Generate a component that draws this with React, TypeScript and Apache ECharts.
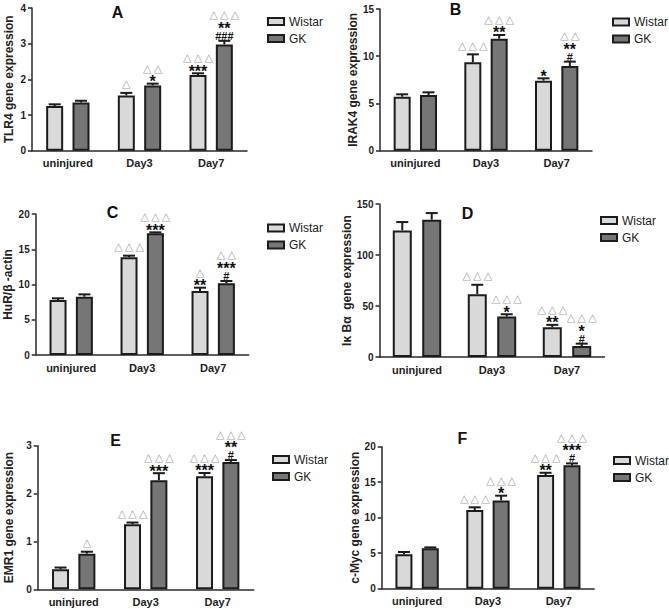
import React, { useEffect, useRef } from "react";
import * as echarts from "echarts";

const categories = ["uninjured", "Day3", "Day7"];

// Panel A: TLR4
const tlr4Wistar = [1.25, 1.55, 2.12];
const tlr4WistarErr = [0.05, 0.07, 0.05];
const tlr4GK = [1.35, 1.83, 2.98];
const tlr4GKErr = [0.05, 0.05, 0.1];
const tlr4WistarMarks = [[], ["△"], ["△△△", "***"]];
const tlr4GKMarks = [[], ["△△", "*"], ["△△△", "**", "###"]];

// Panel B: IRAK4
const irak4Wistar = [5.72, 9.35, 7.41];
const irak4WistarErr = [0.25, 0.85, 0.25];
const irak4GK = [5.9, 11.86, 8.97];
const irak4GKErr = [0.28, 0.39, 0.46];
const irak4WistarMarks = [[], ["△△△"], ["*"]];
const irak4GKMarks = [[], ["△△△", "**"], ["△△", "**", "#"]];

// Panel C: HuR
const hurWistar = [7.8, 13.85, 9.08];
const hurWistarErr = [0.24, 0.24, 0.47];
const hurGK = [8.27, 17.26, 10.17];
const hurGKErr = [0.33, 0.14, 0.33];
const hurWistarMarks = [[], ["△△△"], ["△", "**"]];
const hurGKMarks = [[], ["△△△", "***"], ["△△", "***", "#"]];

// Panel D: IkBa
const ikbWistar = [124.1, 61.6, 29.2];
const ikbWistarErr = [8.2, 9.2, 2.3];
const ikbGK = [134.6, 39.6, 10.8];
const ikbGKErr = [6.5, 2.3, 2.3];
const ikbWistarMarks = [[], ["△△△"], ["△△△", "**"]];
const ikbGKMarks = [[], ["△△△", "*"], ["△△△", "*", "#"]];

// Panel E: EMR1
const emr1Wistar = [0.42, 1.36, 2.36];
const emr1WistarErr = [0.035, 0.035, 0.07];
const emr1GK = [0.745, 2.28, 2.66];
const emr1GKErr = [0.04, 0.146, 0.04];
const emr1WistarMarks = [[], ["△△△"], ["△△△", "***"]];
const emr1GKMarks = [["△"], ["△△△", "***"], ["△△△", "**", "#"]];

// Panel F: c-Myc
const mycWistar = [4.84, 11.08, 16.0];
const mycWistarErr = [0.33, 0.38, 0.33];
const mycGK = [5.68, 12.44, 17.37];
const mycGKErr = [0.14, 0.66, 0.28];
const mycWistarMarks = [[], ["△△△"], ["△△△", "**"]];
const mycGKMarks = [[], ["△△△", "*"], ["△△△", "***", "#"]];

const panelTitles = ["A", "B", "C", "D", "E", "F"];
const yNames = [
  "TLR4 gene expression",
  "IRAK4 gene expression",
  "HuR/β -actin",
  "Iκ Bα  gene expression",
  "EMR1 gene expression",
  "c-Myc gene expression",
];
const yMax = [4, 15, 20, 150, 3, 20];
const yInterval = [1, 5, 5, 50, 1, 5];

const panelData = [
  { w: tlr4Wistar, we: tlr4WistarErr, g: tlr4GK, ge: tlr4GKErr, wm: tlr4WistarMarks, gm: tlr4GKMarks },
  { w: irak4Wistar, we: irak4WistarErr, g: irak4GK, ge: irak4GKErr, wm: irak4WistarMarks, gm: irak4GKMarks },
  { w: hurWistar, we: hurWistarErr, g: hurGK, ge: hurGKErr, wm: hurWistarMarks, gm: hurGKMarks },
  { w: ikbWistar, we: ikbWistarErr, g: ikbGK, ge: ikbGKErr, wm: ikbWistarMarks, gm: ikbGKMarks },
  { w: emr1Wistar, we: emr1WistarErr, g: emr1GK, ge: emr1GKErr, wm: emr1WistarMarks, gm: emr1GKMarks },
  { w: mycWistar, we: mycWistarErr, g: mycGK, ge: mycGKErr, wm: mycWistarMarks, gm: mycGKMarks },
];

// Layout (pixels)
const layout = [
  { grid: { left: 32, top: 8, width: 215, height: 142.7 }, nameGap: 17, legend: { left: 262, top: 9.5 }, title: [117.5, 12.5], bw: 17 },
  { grid: { left: 380, top: 9, width: 212, height: 141.7 }, nameGap: 19, legend: { left: 607, top: 10 }, title: [455.5, 9.5], bw: 17 },
  { grid: { left: 35.7, top: 214, width: 213, height: 141 }, nameGap: 22, legend: { left: 262, top: 216 }, title: [112.5, 212.5], bw: 17 },
  { grid: { left: 379.5, top: 204, width: 225, height: 153 }, nameGap: 16, legend: { left: 595, top: 208.5 }, title: [467.5, 213], bw: 19 },
  { grid: { left: 37.7, top: 445.7, width: 216, height: 143.6 }, nameGap: 23, legend: { left: 267, top: 447.5 }, title: [115.5, 440], bw: 17 },
  { grid: { left: 381.7, top: 446.7, width: 212.5, height: 142 }, nameGap: 19, legend: { left: 608, top: 448.5 }, title: [462.5, 438.5], bw: 17 },
];

const BAR_GAP = 0.55;
const WISTAR_COLOR = "#d9d9d9";
const GK_COLOR = "#767676";
const EDGE = "#1c1c1c";
const AXIS = "#2a2a2a";
const TRI_COLOR = "#a3a3a3";
const FONT = '"Liberation Sans", Arial, sans-serif';
const FIRST_OFFSET: Record<string, number> = { tri: 9, star: 5.5, hash: 5 };

function makeErrorSeries(i: number, values: number[], errs: number[], marks: string[][], side: number) {
  const bw = layout[i].bw;
  const offset = (bw * (1 + BAR_GAP)) / 2;
  return {
    type: "custom",
    xAxisIndex: i,
    yAxisIndex: i,
    z: 5,
    silent: true,
    clip: false,
    encode: { x: 0, y: 1 },
    data: values.map((v, k) => [k, v, errs[k]]),
    renderItem: (params: any, api: any) => {
      const ci = api.value(0);
      const v = api.value(1);
      const e = api.value(2);
      const base = api.coord([ci, v]);
      const top = api.coord([ci, v + e]);
      const cx = base[0] + side * offset;
      const ty = top[1];
      const children: any[] = [
        { type: "line", shape: { x1: cx, y1: base[1], x2: cx, y2: ty }, style: { stroke: EDGE, lineWidth: 2 } },
        { type: "line", shape: { x1: cx - 6, y1: ty, x2: cx + 6, y2: ty }, style: { stroke: EDGE, lineWidth: 2 } },
      ];
      const lines = marks[params.dataIndex] || [];
      const rev = [...lines].reverse();
      let vc = ty;
      rev.forEach((txt, idx) => {
        const kind = txt[0] === "△" ? "tri" : txt[0] === "*" ? "star" : "hash";
        if (idx === 0) vc = ty - FIRST_OFFSET[kind];
        else vc -= kind === "tri" ? 10 : 11;
        let text = txt;
        let font = 'bold 11px "Liberation Sans"';
        let fill = "#111";
        let y = vc;
        if (kind === "tri") {
          text = txt.split("").join("\u2009");
          font = '11px "DejaVu Sans"';
          fill = TRI_COLOR;
        } else if (kind === "star") {
          font = 'bold 16px "Liberation Sans"';
          y = vc + 3.4;
        }
        children.push({
          type: "text",
          x: cx,
          y,
          style: {
            text,
            font,
            fill,
            align: "center",
            verticalAlign: "middle",
            textAlign: "center",
            textVerticalAlign: "middle",
          },
        });
      });
      return { type: "group", children };
    },
  };
}

export default function App() {
  const ref = useRef<HTMLDivElement>(null);
  useEffect(() => {
    if (!ref.current) return;
    const chart = echarts.init(ref.current, null, { renderer: "svg" });
    const grids: any[] = [];
    const xAxes: any[] = [];
    const yAxes: any[] = [];
    const legends: any[] = [];
    const series: any[] = [];
    const graphics: any[] = [];
    layout.forEach((L, i) => {
      const d = panelData[i];
      grids.push({ ...L.grid, containLabel: false });
      xAxes.push({
        type: "category",
        gridIndex: i,
        data: categories,
        axisLine: { lineStyle: { color: AXIS, width: 1.5 } },
        axisTick: { alignWithLabel: true, length: 4, lineStyle: { color: AXIS, width: 1.5 } },
        axisLabel: { fontSize: 11, fontWeight: "bold", color: "#222", fontFamily: FONT, margin: 7 },
        splitLine: { show: false },
      });
      yAxes.push({
        type: "value",
        gridIndex: i,
        min: 0,
        max: yMax[i],
        interval: yInterval[i],
        name: yNames[i],
        nameLocation: "middle",
        nameGap: L.nameGap,
        nameTextStyle: { fontSize: 12, fontWeight: "bold", color: "#222", fontFamily: FONT },
        axisLine: { show: true, lineStyle: { color: AXIS, width: 1.5 } },
        axisTick: { show: true, length: 4, lineStyle: { color: AXIS, width: 1.5 } },
        axisLabel: { fontSize: 10, fontWeight: "bold", color: "#222", fontFamily: FONT, margin: 6 },
        splitLine: { show: false },
      });
      legends.push({
        data: ["Wistar", "GK"],
        orient: "vertical",
        left: L.legend.left,
        top: L.legend.top,
        itemWidth: 16,
        itemHeight: 7,
        itemGap: 3,
        selectedMode: false,
        icon: "rect",
        itemStyle: { borderColor: EDGE, borderWidth: 2 },
        textStyle: { fontSize: 12, color: "#222", fontFamily: FONT, lineHeight: 14 },
      });
      series.push({
        name: "Wistar",
        type: "bar",
        xAxisIndex: i,
        yAxisIndex: i,
        data: d.w,
        barWidth: L.bw,
        barGap: `${BAR_GAP * 100}%`,
        itemStyle: { color: WISTAR_COLOR, borderColor: EDGE, borderWidth: 2 },
      });
      series.push({
        name: "GK",
        type: "bar",
        xAxisIndex: i,
        yAxisIndex: i,
        data: d.g,
        barWidth: L.bw,
        barGap: `${BAR_GAP * 100}%`,
        itemStyle: { color: GK_COLOR, borderColor: EDGE, borderWidth: 2 },
      });
      series.push(makeErrorSeries(i, d.w, d.we, d.wm, -1));
      series.push(makeErrorSeries(i, d.g, d.ge, d.gm, 1));
      graphics.push({
        type: "text",
        x: L.title[0],
        y: L.title[1],
        style: {
          text: panelTitles[i],
          font: 'bold 16px "Liberation Sans", Arial',
          fill: "#111",
          align: "center",
          verticalAlign: "middle",
          textAlign: "center",
          textVerticalAlign: "middle",
        },
      });
    });
    chart.setOption({
      animation: false,
      backgroundColor: "#ffffff",
      grid: grids,
      xAxis: xAxes,
      yAxis: yAxes,
      legend: legends,
      series,
      graphic: graphics,
    });
    return () => chart.dispose();
  }, []);
  return <div ref={ref} style={{ position: "absolute", left: 0, top: 0, width: 669, height: 609 }} />;
}
